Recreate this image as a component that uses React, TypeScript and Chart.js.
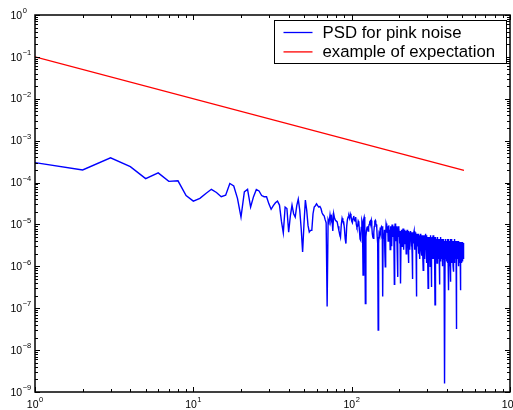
import React, { useEffect, useRef } from 'react';
import { Chart, registerables } from 'chart.js';

Chart.register(...registerables);

// PSD for pink noise, one value per frequency bin 1..512
const psd = [
  3.0e-4, 2.0e-4, 3.9e-4, 2.4e-4, 1.24e-4, 1.7e-4, 1.07e-4, 1.1e-4, 4.9e-5, 3.6e-5,
  4.2e-5, 5.5e-5, 6.9e-5, 5.8e-5, 4.6e-5, 5.0e-5, 9.5e-5, 8.3e-5, 4.2e-5, 1.5e-5,
  6.0e-5, 6.9e-5, 2.6e-5, 4.6e-5, 6.8e-5, 6.3e-5, 4.9e-5, 4.6e-5, 4.6e-5, 3.1e-5,
  2.3e-5, 2.8e-5, 3.3e-5, 3.6e-5, 2.9e-5, 1.2e-5, 6.3e-6, 2.6e-5, 2.4e-5, 6.5e-6,
  1.6e-5, 2.9e-5, 1.8e-5, 1.5e-5, 2.8e-5, 4.0e-5, 2.2e-5, 7.9e-6, 2.2e-6, 1.05e-5,
  3.8e-5, 2.2e-5, 9.5e-6, 6.6e-6, 7.2e-6, 7.2e-6, 1.8e-5, 2.6e-5, 2.8e-5, 3.1e-5,
  2.8e-5, 2.6e-5, 2.7e-5, 2.4e-5, 1.9e-5, 1.7e-5, 1.6e-5, 1.3e-5, 1.1e-5, 1.1e-7,
  1.3e-5, 1.1e-5, 1.7e-5, 1.2e-5, 1.5e-5, 7.0e-6, 1.8e-5, 1.4e-5, 1.25e-5, 1.2e-5,
  1.15e-5, 9.0e-6, 7.2e-6, 6.0e-6, 5.0e-6, 1.0e-5, 1.4e-5, 1.2e-5, 1.15e-5, 8.0e-6,
  4.5e-6, 3.5e-6, 9.0e-6, 1.3e-5, 1.5e-5, 1.6e-5, 1.4e-5, 1.8e-5, 1.6e-5, 1.2e-5,
  1.1e-5, 1.4e-5, 1.6e-5, 1.3e-5, 1.2e-5, 1.5e-5, 1.0e-5, 8.5e-6, 9.0e-6, 1.2e-5,
  1.1e-5, 7.0e-6, 4.5e-6, 4.2e-6, 8.5e-6, 1.25e-5, 1.1e-5, 6.2e-7, 1.3e-5, 1.5e-5,
  1.2e-5, 1.3e-7, 5.0e-6, 7.2e-6, 8.5e-6, 9.0e-6, 7.0e-6, 8.7e-6, 1.0e-5, 1.15e-5,
  1.2e-5, 1.1e-5, 1.25e-5, 9.0e-6, 6.0e-6, 5.0e-6, 4.7e-6, 6.5e-6, 9.0e-6, 1.2e-5,
  1.25e-5, 1.05e-5, 1.0e-5, 8.5e-6, 5.0e-6, 3.5e-6, 3.0e-8, 3.5e-6, 6.0e-6, 5.5e-6,
  7.0e-6, 6.0e-6, 8.0e-6, 8.7e-6, 7.5e-6, 9.0e-6, 1.9e-7, 6.0e-6, 6.0e-6, 4.5e-6,
  7.5e-6, 2.2e-6, 9.8e-7, 5.0e-6, 1.05e-5, 9.0e-6, 1.0e-5, 6.5e-6, 9.0e-6, 4.0e-6,
  8.0e-6, 9.5e-6, 5.5e-6, 7.5e-6, 2.5e-6, 9.0e-6, 6.0e-6, 8.5e-6, 3.0e-6, 1.0e-5,
  7.0e-6, 5.0e-6, 9.0e-6, 6.5e-6, 8.0e-6, 3.7e-7, 5.0e-6, 1.05e-5, 7.0e-6, 4.0e-6,
  9.0e-6, 6.0e-6, 8.0e-6, 2.0e-6, 5.6e-7, 7.0e-6, 9.0e-6, 5.0e-6, 8.0e-6, 6.0e-6,
  3.5e-6, 7.0e-6, 5.0e-6, 3.9e-7, 4.5e-6, 7.5e-6, 6.0e-6, 3.0e-6, 7.0e-6, 5.5e-6,
  8.0e-6, 4.0e-6, 6.5e-6, 2.5e-6, 7.0e-6, 5.0e-6, 7.5e-6, 3.5e-6, 6.0e-6, 7.0e-6,
  2.0e-6, 6.5e-6, 5.0e-6, 7.5e-6, 4.0e-6, 6.0e-6, 3.0e-6, 1.2e-6, 5.5e-6, 7.0e-6,
  4.5e-6, 6.5e-6, 2.5e-6, 5.5e-6, 7.0e-6, 4.0e-6, 6.0e-6, 3.0e-6, 6.5e-6, 5.0e-6,
  2.0e-6, 5.0e-7, 4.5e-6, 6.5e-6, 5.5e-6, 3.5e-6, 6.0e-6, 7.0e-6, 4.0e-6, 5.5e-6,
  2.5e-6, 6.0e-6, 4.5e-6, 6.5e-6, 3.0e-6, 5.0e-6, 1.9e-7, 4.0e-6, 6.0e-6, 5.0e-6,
  3.0e-6, 5.5e-6, 4.0e-6, 6.0e-6, 2.0e-6, 5.0e-6, 3.5e-6, 5.5e-6, 4.5e-6, 1.5e-6,
  5.0e-6, 6.0e-6, 3.0e-6, 4.5e-6, 2.5e-6, 5.5e-6, 4.0e-6, 1.8e-6, 5.0e-6, 3.5e-6,
  5.5e-6, 2.0e-6, 8.0e-7, 4.0e-6, 5.0e-6, 3.0e-6, 5.5e-6, 2.5e-6, 4.5e-6, 1.5e-6,
  5.0e-6, 3.5e-6, 6.0e-6, 2.5e-6, 4.0e-6, 1.2e-6, 4.5e-6, 5.5e-6, 3.0e-6, 4.0e-6,
  2.0e-6, 5.0e-6, 1.5e-6, 3.0e-7, 3.5e-6, 5.0e-6, 2.5e-6, 4.5e-6, 1.8e-6, 5.0e-6,
  3.0e-6, 4.0e-6, 1.0e-6, 4.5e-6, 5.5e-6, 2.0e-6, 3.5e-6, 1.3e-6, 4.0e-6, 3.2e-7,
  3.0e-6, 5.0e-6, 2.0e-6, 4.5e-6, 1.5e-6, 4.0e-6, 5.5e-6, 2.5e-6, 3.5e-6, 1.5e-6,
  4.0e-6, 5.0e-6, 2.5e-6, 4.5e-6, 1.5e-6, 1.2e-7, 3.0e-6, 4.5e-6, 2.0e-6, 5.0e-6,
  3.5e-6, 1.5e-6, 4.0e-6, 2.5e-6, 4.5e-6, 1.2e-6, 3.5e-6, 5.0e-6, 2.0e-6, 4.0e-6,
  3.0e-6, 4.5e-6, 1.5e-6, 3.5e-6, 2.5e-6, 4.5e-6, 1.8e-6, 3.7e-7, 3.0e-6, 4.5e-6,
  2.5e-6, 4.0e-6, 1.3e-6, 3.5e-6, 5.0e-6, 2.0e-6, 4.0e-6, 3.0e-6, 1.5e-6, 4.5e-6,
  2.5e-6, 4.0e-6, 1.0e-6, 3.5e-6, 4.5e-6, 2.0e-6, 3.5e-6, 1.5e-6, 4.0e-6, 3.0e-6,
  4.5e-6, 1.8e-6, 3.5e-6, 2.5e-6, 4.0e-6, 1.2e-6, 3.0e-6, 1.6e-9, 2.5e-6, 4.0e-6,
  2.0e-6, 3.5e-6, 4.5e-6, 1.5e-6, 3.0e-6, 4.0e-6, 2.0e-6, 3.5e-6, 1.3e-6, 4.0e-6,
  2.5e-6, 4.5e-6, 3.0e-6, 1.2e-6, 4.0e-6, 2.0e-6, 3.5e-6, 4.5e-6, 1.5e-6, 3.0e-6,
  2.7e-7, 3.5e-6, 4.0e-6, 2.0e-6, 3.5e-6, 1.0e-6, 4.0e-6, 2.5e-6, 4.3e-7, 3.0e-6,
  4.5e-6, 2.0e-6, 3.5e-6, 1.5e-6, 4.0e-6, 3.0e-6, 4.5e-6, 1.2e-6, 3.0e-6, 4.0e-6,
  2.0e-6, 3.5e-6, 1.5e-6, 4.0e-6, 2.5e-6, 3.5e-6, 1.0e-6, 7.4e-7, 3.0e-6, 4.0e-6,
  2.0e-6, 3.5e-6, 1.5e-6, 4.5e-6, 2.5e-6, 3.5e-6, 1.2e-6, 3.0e-6, 4.0e-6, 2.0e-6,
  3.5e-6, 1.5e-6, 4.0e-6, 3.0e-6, 1.8e-6, 3.5e-6, 3.2e-8, 2.5e-6, 4.0e-6, 2.0e-6,
  3.5e-6, 1.3e-6, 3.0e-6, 4.0e-6, 2.0e-6, 3.5e-6, 1.5e-6, 3.8e-6, 2.5e-6, 3.5e-6,
  1.0e-6, 3.0e-6, 4.0e-6, 2.0e-6, 3.5e-6, 1.5e-6, 3.8e-6, 2.5e-6, 3.5e-6, 1.2e-6,
  3.0e-6, 3.8e-6, 1.8e-6, 3.2e-6, 2.7e-7, 2.5e-6, 3.8e-6, 2.0e-6, 3.3e-6, 1.5e-6,
  3.5e-6, 2.5e-6, 3.8e-6, 1.2e-6, 3.0e-6, 3.5e-6, 2.0e-6, 3.6e-6, 1.5e-6, 3.0e-6,
  3.8e-6, 2.2e-6, 3.4e-6, 1.3e-6, 3.0e-6, 3.6e-6, 2.0e-6, 3.5e-6, 1.5e-6, 3.2e-6,
  2.5e-6, 3.5e-6,
];
const freqs = psd.map((_, i) => i + 1);

// "example of expectation": straight line on log-log axes, end points
const expectFreq = [1, 512];
const expectVal = [0.1, 1.953e-4];

const legendLabels = ['PSD for pink noise', 'example of expectation'];
const seriesColors = ['#0000ff', '#ff0000'];

const xTickExps = [0, 1, 2, 3];
const yTickExps = [-9, -8, -7, -6, -5, -4, -3, -2, -1, 0];
const minorMults = [2, 3, 4, 5, 6, 7, 8, 9];

const FONT = '"Liberation Sans", Arial, Helvetica, sans-serif';

function expText(e: number) {
  return e < 0 ? '\u2212' + String(-e) : String(e);
}

const framePlugin = {
  id: 'matlabFrame',
  beforeDraw(chart: any) {
    const { ctx, width, height } = chart;
    ctx.save();
    ctx.fillStyle = '#ffffff';
    ctx.fillRect(0, 0, width, height);
    ctx.restore();
  },
  afterDatasetsDraw(chart: any) {
    const { ctx, chartArea: a, scales } = chart;
    const xs = scales.x;
    const ys = scales.y;
    ctx.save();
    ctx.strokeStyle = '#000';
    ctx.lineWidth = 1;
    ctx.beginPath();
    // x ticks (inward, bottom and top)
    for (let i = 0; i < xTickExps.length; i++) {
      const e = xTickExps[i];
      const mults = i < xTickExps.length - 1 ? [1, ...minorMults] : [1];
      for (const m of mults) {
        const px = Math.round(xs.getPixelForValue(m * Math.pow(10, e))) + 0.5;
        if (px > a.right + 1) continue;
        const len = m === 1 ? 5 : 3;
        ctx.moveTo(px, a.bottom);
        ctx.lineTo(px, a.bottom - len);
        ctx.moveTo(px, a.top);
        ctx.lineTo(px, a.top + len);
      }
    }
    // y ticks (inward, left and right)
    for (let i = 0; i < yTickExps.length; i++) {
      const e = yTickExps[i];
      const mults = i < yTickExps.length - 1 ? [1, ...minorMults] : [1];
      for (const m of mults) {
        const py = Math.round(ys.getPixelForValue(m * Math.pow(10, e))) + 0.5;
        const len = m === 1 ? 5 : 3;
        ctx.moveTo(a.left, py);
        ctx.lineTo(a.left + len, py);
        ctx.moveTo(a.right, py);
        ctx.lineTo(a.right - len, py);
      }
    }
    ctx.stroke();

    // frame
    ctx.lineWidth = 1.5;
    ctx.strokeRect(a.left, a.top, a.right - a.left, a.bottom - a.top);

    // tick labels
    ctx.fillStyle = '#000';
    ctx.textBaseline = 'middle';
    ctx.textAlign = 'left';
    const baseFont = '10.5px ' + FONT;
    const expFont = '7.5px ' + FONT;
    ctx.font = baseFont;
    const w10 = ctx.measureText('10').width;
    for (const e of yTickExps) {
      const py = ys.getPixelForValue(Math.pow(10, e));
      ctx.font = baseFont;
      ctx.fillText('10', 10.5, py + 0.8);
      ctx.font = expFont;
      ctx.fillText(expText(e), 10.5 + w10 + 0.5, py - 3.8);
    }
    for (const e of xTickExps) {
      const px = xs.getPixelForValue(Math.pow(10, e));
      ctx.font = expFont;
      const we = ctx.measureText(expText(e)).width;
      const start = px - (w10 + we + 0.5) / 2;
      ctx.font = baseFont;
      ctx.fillText('10', start, a.bottom + 13);
      ctx.font = expFont;
      ctx.fillText(expText(e), start + w10 + 0.5, a.bottom + 8);
    }

    // legend
    const lw = 232;
    const lh = 43;
    const lx = Math.round(a.right - 236) + 0.5;
    const ly = Math.round(a.top + 5) + 0.5;
    ctx.fillStyle = '#fff';
    ctx.fillRect(lx, ly, lw, lh);
    ctx.lineWidth = 1;
    ctx.strokeStyle = '#000';
    ctx.strokeRect(lx, ly, lw, lh);
    ctx.font = '16.8px ' + FONT;
    ctx.textBaseline = 'alphabetic';
    for (let i = 0; i < legendLabels.length; i++) {
      const yLine = ly + 12 + i * 19.4;
      ctx.strokeStyle = seriesColors[i];
      ctx.lineWidth = 1.3;
      ctx.beginPath();
      ctx.moveTo(lx + 9, yLine);
      ctx.lineTo(lx + 38, yLine);
      ctx.stroke();
      ctx.fillStyle = '#000';
      ctx.fillText(legendLabels[i], lx + 48, ly + 17.2 + i * 19);
    }
    ctx.restore();
  },
};

export default function App() {
  const ref = useRef<HTMLCanvasElement>(null);
  useEffect(() => {
    document.body.style.margin = '0';
    const canvas = ref.current;
    if (!canvas) return;
    const chart = new Chart(canvas, {
      type: 'line',
      data: {
        datasets: [
          {
            label: legendLabels[0],
            data: freqs.map((f, i) => ({ x: f, y: psd[i] })),
            borderColor: seriesColors[0],
            borderWidth: 1.4,
            pointRadius: 0,
            fill: false,
            tension: 0,
          },
          {
            label: legendLabels[1],
            data: expectFreq.map((f, i) => ({ x: f, y: expectVal[i] })),
            borderColor: seriesColors[1],
            borderWidth: 1.3,
            pointRadius: 0,
            fill: false,
            tension: 0,
          },
        ],
      },
      options: {
        animation: false,
        responsive: false,
        events: [],
        layout: { padding: { left: 35, top: 15, right: 3, bottom: 18 } },
        scales: {
          x: { type: 'logarithmic', min: 1, max: 1000, display: false },
          y: { type: 'logarithmic', min: 1e-9, max: 1, display: false },
        },
        plugins: {
          legend: { display: false },
          tooltip: { enabled: false },
        },
      } as any,
      plugins: [framePlugin],
    });
    return () => chart.destroy();
  }, []);
  return <canvas ref={ref} width={513} height={410} style={{ display: 'block' }} />;
}
